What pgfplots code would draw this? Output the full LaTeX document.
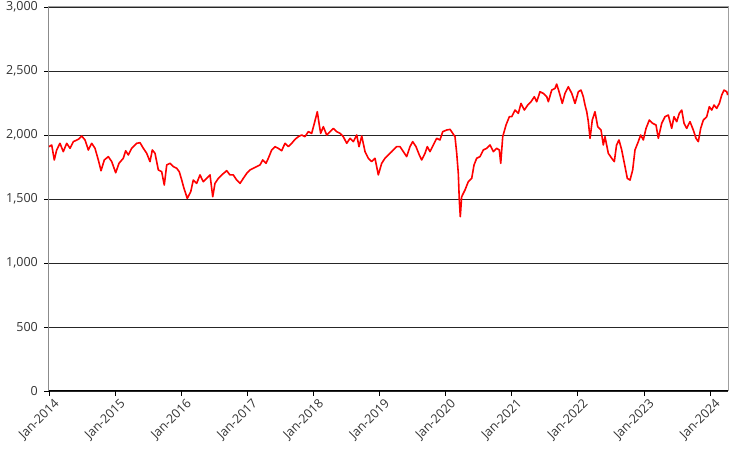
\documentclass[border=0pt]{standalone}
\usepackage{pgfplots}
\pgfplotsset{compat=1.18}
\usepackage{fontspec}
\setmainfont{Open Sans}
\pgfplotstableread{
x y
0.000 1909
0.041 1922
0.080 1805
0.116 1883
0.166 1935
0.216 1870
0.268 1935
0.318 1896
0.368 1948
0.443 1966
0.495 1992
0.545 1961
0.595 1883
0.646 1935
0.696 1896
0.746 1805
0.787 1721
0.837 1805
0.897 1831
0.949 1792
1.009 1705
1.059 1779
1.124 1818
1.160 1877
1.200 1844
1.251 1896
1.327 1935
1.377 1940
1.427 1896
1.478 1857
1.528 1792
1.563 1883
1.604 1857
1.654 1727
1.705 1713
1.744 1609
1.781 1766
1.831 1779
1.880 1753
1.932 1740
1.971 1713
2.008 1648
2.042 1583
2.092 1505
2.144 1557
2.183 1648
2.234 1622
2.284 1688
2.334 1635
2.386 1661
2.436 1688
2.477 1518
2.511 1622
2.561 1661
2.613 1688
2.688 1721
2.738 1688
2.788 1688
2.840 1648
2.890 1622
2.939 1661
2.991 1700
3.041 1727
3.091 1740
3.142 1753
3.192 1766
3.233 1805
3.283 1779
3.318 1818
3.369 1883
3.419 1909
3.469 1896
3.520 1877
3.570 1935
3.620 1909
3.672 1935
3.722 1966
3.772 1987
3.823 2000
3.873 1987
3.923 2026
3.974 2013
4.014 2091
4.059 2182
4.089 2078
4.110 2013
4.150 2065
4.201 2000
4.251 2026
4.301 2052
4.352 2026
4.402 2013
4.452 1987
4.504 1935
4.554 1974
4.604 1948
4.655 2000
4.690 1909
4.731 1992
4.781 1870
4.831 1818
4.882 1792
4.932 1818
4.982 1688
5.033 1779
5.083 1818
5.133 1844
5.185 1870
5.209 1883
5.260 1909
5.310 1909
5.360 1870
5.411 1831
5.461 1909
5.502 1948
5.552 1909
5.602 1844
5.638 1805
5.688 1857
5.723 1909
5.764 1870
5.814 1922
5.865 1974
5.915 1961
5.956 2026
6.017 2039
6.067 2044
6.107 2013
6.142 1987
6.168 1857
6.192 1700
6.207 1492
6.222 1362
6.243 1518
6.293 1570
6.343 1635
6.395 1661
6.430 1766
6.470 1818
6.520 1831
6.570 1883
6.622 1896
6.672 1922
6.722 1870
6.773 1896
6.812 1883
6.834 1779
6.864 1987
6.914 2078
6.964 2143
7.000 2143
7.050 2195
7.100 2169
7.141 2247
7.191 2195
7.242 2234
7.292 2260
7.342 2299
7.378 2260
7.428 2338
7.478 2325
7.530 2299
7.554 2260
7.605 2351
7.655 2364
7.680 2398
7.716 2338
7.765 2247
7.806 2325
7.856 2377
7.908 2325
7.958 2247
8.008 2338
8.048 2351
8.083 2299
8.109 2234
8.135 2182
8.159 2104
8.185 1974
8.219 2117
8.260 2182
8.301 2065
8.351 2039
8.386 1922
8.411 1987
8.461 1857
8.513 1818
8.552 1792
8.586 1922
8.623 1961
8.664 1883
8.704 1779
8.714 1753
8.749 1661
8.790 1648
8.830 1727
8.865 1883
8.915 1948
8.951 2000
8.991 1961
9.032 2052
9.082 2117
9.133 2091
9.183 2078
9.218 1974
9.269 2091
9.319 2143
9.369 2156
9.420 2052
9.455 2143
9.496 2104
9.535 2169
9.572 2195
9.607 2091
9.647 2052
9.697 2104
9.747 2039
9.788 1974
9.823 1948
9.859 2052
9.899 2117
9.950 2143
9.989 2221
10.026 2195
10.061 2234
10.101 2208
10.141 2247
10.177 2312
10.212 2351
10.253 2338
10.268 2312
}\series
\begin{document}
\begin{tikzpicture}
\path[use as bounding box] (0,0) rectangle (750pt,463pt);
\begin{axis}[
  at={(49pt,72pt)}, anchor=south west,
  scale only axis, width=679pt, height=384pt,
  xmin=0, xmax=10.272, ymin=0, ymax=3000,
  xtick={0,1,2,3,4,5,6,7,8,9,10},
  xticklabels={Jan-2014,Jan-2015,Jan-2016,Jan-2017,Jan-2018,Jan-2019,Jan-2020,Jan-2021,Jan-2022,Jan-2023,Jan-2024},
  ytick={0,500,1000,1500,2000,2500,3000},
  xtick pos=bottom, ytick pos=left,
  tick align=outside, major tick length=5pt,
  tick style={black, line width=0.8pt},
  x tick label style={rotate=45, anchor=north east, inner sep=1pt, xshift=3pt, yshift=-3pt},
  y tick label style={inner sep=2pt, xshift=-4pt},
  ymajorgrids, major grid style={black!85, line width=0.8pt},
  axis line style={draw=gray!75, line width=1pt},
  tick label style={font=\fontsize{12.5}{15}\selectfont, text=black!80},
  /pgf/number format/.cd, 1000 sep={,}, assume math mode=true,
]
\addplot[draw=red, line width=1.6pt, line join=round] table[x=x, y=y] {\series};
\draw[black, line width=1pt] (rel axis cs:0,0) -- (rel axis cs:0,1);
\draw[black, line width=1pt] (rel axis cs:0,0) -- (rel axis cs:1,0);
\end{axis}
\end{tikzpicture}
\end{document}
